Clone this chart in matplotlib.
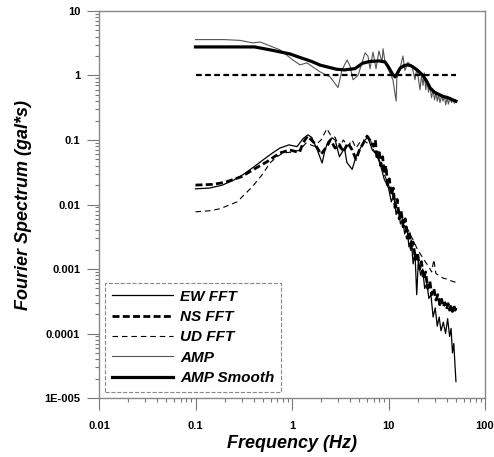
import matplotlib
matplotlib.use("Agg")
import matplotlib.pyplot as plt

plt.rcParams['font.family'] = ['Liberation Sans', 'DejaVu Sans']

# EW FFT
ew_f = [0.1, 0.14, 0.19, 0.25, 0.31, 0.4, 0.5, 0.62, 0.75, 0.93,
        1.13, 1.3, 1.46, 1.6, 1.83, 2.05, 2.2, 2.35, 2.6, 2.8,
        3.1, 3.5, 3.7, 4.2, 4.6, 5.2, 5.7, 6.1, 6.8, 7.5,
        8.3, 9.0, 10.0, 10.7, 11.3, 12.0, 12.6, 13.3, 14.0, 14.7,
        15.5, 16.3, 17.2, 18.0, 18.8, 19.6, 20.4, 21.5, 22.6, 23.7,
        25.0, 26.2, 27.5, 29.0, 30.5, 32.0, 33.5, 35.0, 37.0, 39.0,
        41.0, 43.0, 44.5, 46.0, 47.5, 49.0, 50.0]
ew_v = [0.0175, 0.018, 0.02, 0.024, 0.029, 0.038, 0.049, 0.062, 0.075, 0.084,
        0.079, 0.105, 0.12, 0.11, 0.07, 0.044, 0.07, 0.093, 0.108, 0.1,
        0.055, 0.075, 0.045, 0.035, 0.055, 0.078, 0.1, 0.11, 0.07, 0.06,
        0.04, 0.025, 0.018, 0.011, 0.014, 0.007, 0.009, 0.005, 0.006, 0.0035,
        0.0045, 0.0022, 0.0028, 0.0012, 0.0018, 0.0004, 0.0014, 0.0008, 0.001, 0.0005,
        0.0006, 0.00035, 0.0004, 0.00018, 0.00025, 0.00013, 0.00018, 0.00011, 0.00015, 0.0001,
        0.00017, 0.00009, 0.00012, 0.00005, 0.00007, 0.00003, 0.000018]

# NS FFT
ns_f = [0.1, 0.15, 0.2, 0.3, 0.4, 0.55, 0.75, 0.95, 1.1, 1.2,
        1.3, 1.45, 1.7, 2.0, 2.3, 2.5, 2.8, 3.1, 3.4, 3.8,
        4.2, 4.6, 5.0, 5.5, 6.0, 6.4, 7.0, 7.3, 7.6, 8.0,
        8.3, 8.7, 9.0, 9.4, 9.8, 10.2, 10.7, 11.2, 11.7, 12.3,
        12.9, 13.5, 14.2, 14.9, 15.6, 16.4, 17.2, 18.0, 19.0, 20.0,
        21.0, 22.0, 23.0, 24.2, 25.5, 26.8, 28.0, 29.5, 31.0, 32.5,
        34.0, 35.5, 37.0, 38.5, 40.0, 41.5, 43.0, 44.5, 46.0, 47.5,
        49.0, 50.0]
ns_v = [0.020, 0.0205, 0.022, 0.027, 0.035, 0.046, 0.063, 0.07, 0.066, 0.065,
        0.09, 0.115, 0.09, 0.06, 0.08, 0.1, 0.075, 0.085, 0.065, 0.09,
        0.07, 0.05, 0.07, 0.09, 0.115, 0.1, 0.08, 0.1, 0.05, 0.07,
        0.04, 0.055, 0.03, 0.04, 0.02, 0.025, 0.014, 0.018, 0.009, 0.012,
        0.006, 0.008, 0.0045, 0.006, 0.003, 0.0038, 0.002, 0.0026, 0.0014, 0.0018,
        0.001, 0.0013, 0.0007, 0.0009, 0.0005, 0.00065, 0.0004, 0.0005, 0.00033, 0.0004,
        0.00028, 0.00034, 0.00026, 0.0003, 0.00024, 0.00029, 0.00023, 0.00028, 0.00022, 0.00027,
        0.00023, 0.00025]

# UD FFT
ud_f = [0.1, 0.14, 0.18, 0.27, 0.39, 0.5, 0.59, 0.7, 0.81, 1.02,
        1.2, 1.4, 1.7, 2.0, 2.3, 2.5, 2.8, 3.1, 3.4, 3.8,
        4.2, 4.6, 5.0, 5.5, 6.0, 6.5, 7.0, 8.0, 9.0, 10,
        11, 12, 13, 14, 16, 18, 20, 22, 24, 26,
        28, 29.5, 31, 34, 37, 40, 44, 48, 50]
ud_v = [0.0077, 0.008, 0.0086, 0.011, 0.019, 0.03, 0.044, 0.055, 0.063, 0.065,
        0.07, 0.09, 0.08, 0.1, 0.15, 0.12, 0.11, 0.075, 0.1, 0.08,
        0.1, 0.075, 0.09, 0.1, 0.09, 0.1, 0.07, 0.05, 0.03, 0.02,
        0.014, 0.01, 0.008, 0.006, 0.004, 0.0028, 0.002, 0.0016, 0.0013, 0.0011,
        0.0009, 0.0014, 0.00085, 0.00078, 0.00072, 0.0007, 0.00066, 0.00063, 0.00063]

# AMP (spectral ratio) and smoothed version
amp_f = [0.1, 0.2, 0.29, 0.39, 0.47, 0.55, 0.75, 1.02, 1.21, 1.43,
         1.54, 1.95, 2.48, 3.0, 3.3, 3.72, 3.99, 4.29, 4.83, 5.31,
         5.71, 6.13, 6.43, 6.91, 7.42, 7.97, 8.57, 8.78, 9.2, 9.89,
         11.1, 12.0, 12.2, 13.2, 14.1, 14.8, 15.9, 17.5, 18.8, 19.7,
         21.2, 22.0, 22.8, 23.5, 24.3, 25.1, 26.0, 26.9, 27.9, 28.9,
         30.0, 31.0, 32.0, 33.0, 34.2, 35.5, 36.7, 38.0, 39.2, 40.4,
         41.8, 43.4, 45.0, 46.6, 48.0, 49.0, 50.0]
amp_v = [3.6, 3.6, 3.5, 3.2, 3.3, 3.0, 2.5, 1.74, 1.46, 1.57,
         1.45, 1.14, 0.95, 0.65, 1.22, 1.74, 1.41, 0.86, 1.0, 1.57,
         2.24, 2.0, 1.27, 2.3, 1.27, 2.4, 1.6, 2.6, 1.6, 1.27,
         0.86, 0.4, 0.9, 1.31, 2.0, 1.2, 1.6, 1.4, 0.86, 1.3,
         0.6, 1.0, 0.7, 1.1, 0.6, 0.85, 0.55, 0.7, 0.45, 0.6,
         0.42, 0.55, 0.4, 0.5, 0.38, 0.5, 0.4, 0.48, 0.35, 0.45,
         0.36, 0.46, 0.38, 0.44, 0.37, 0.42, 0.38]

sm_f = [0.1, 0.41, 0.59, 0.95, 1.21, 1.6, 1.95, 2.5, 2.9, 3.5,
        4.5, 5.4, 6.4, 8.0, 9.2, 10.0, 11.0, 11.7, 12.2, 13.2,
        14.5, 15.6, 17.0, 18.0, 20.0, 22.8, 25, 27, 30, 34,
        37, 40, 43, 46, 50]
sm_v = [2.77, 2.77, 2.5, 2.16, 1.9, 1.65, 1.45, 1.32, 1.25, 1.22,
        1.28, 1.55, 1.65, 1.68, 1.62, 1.35, 1.05, 0.95, 1.05, 1.3,
        1.42, 1.46, 1.42, 1.35, 1.2, 1.0, 0.8, 0.64, 0.55, 0.5,
        0.47, 0.46, 0.44, 0.42, 0.4]

ref_f = [0.1, 50]
ref_v = [1, 1]

fig = plt.figure(figsize=(4.94, 4.57), dpi=100)
ax = fig.add_axes([0.2004, 0.129, 0.7814, 0.847])

ax.plot(ew_f, ew_v, color='black', lw=0.9, label='EW FFT')
ax.plot(ns_f, ns_v, color='black', lw=2.0, dashes=(2.5, 1.2), label='NS FFT')
ax.plot(ud_f, ud_v, color='black', lw=0.8, dashes=(5, 3.5), label='UD FFT')
ax.plot(amp_f, amp_v, color='#555555', lw=0.8, label='AMP')
ax.plot(sm_f, sm_v, color='black', lw=2.3, label='AMP Smooth')
ax.plot(ref_f, ref_v, color='black', lw=1.6, dashes=(2.6, 1.5))

ax.set_xscale('log')
ax.set_yscale('log')
ax.set_xlim(0.01, 100)
ax.set_ylim(1e-5, 10)

ax.set_xticks([0.01, 0.1, 1, 10, 100])
ax.set_xticklabels(['0.01', '0.1', '1', '10', '100'])
ax.set_yticks([1e-5, 1e-4, 1e-3, 1e-2, 0.1, 1, 10])
ax.set_yticklabels(['1E-005', '0.0001', '0.001', '0.01', '0.1', '1', '10'])

for s in ax.spines.values():
    s.set_color('#888888')
    s.set_linewidth(1)

ax.tick_params(which='major', direction='out', length=8.5, width=0.8,
               color='#777777', labelsize=8, pad=5)
ax.tick_params(which='minor', direction='out', length=3, width=0.8, color='#777777')
ax.tick_params(axis='x', which='major', pad=8)
for lab in ax.get_xticklabels() + ax.get_yticklabels():
    lab.set_fontweight('bold')

ax.set_xlabel('Frequency (Hz)', fontsize=13, fontweight='bold', style='italic', labelpad=3)
ax.set_ylabel('Fourier Spectrum (gal*s)', fontsize=13, fontweight='bold', style='italic', labelpad=9)

leg = ax.legend(loc='lower left', bbox_to_anchor=(0.0155, 0.0155), borderaxespad=0,
                prop={'size': 11, 'weight': 'bold', 'style': 'italic'},
                handlelength=4.0, handletextpad=0.45, labelspacing=0.42,
                borderpad=0.45, fancybox=False, framealpha=1)
fr = leg.get_frame()
fr.set_edgecolor('#888888')
fr.set_linestyle('--')
fr.set_linewidth(0.8)

fig.savefig('out.png', dpi=100)
